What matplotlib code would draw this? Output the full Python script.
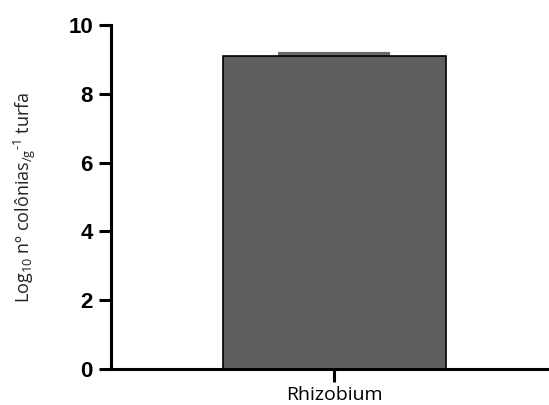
import matplotlib
matplotlib.use("Agg")
import matplotlib.pyplot as plt

categories = ["Rhizobium"]
values = [9.1]
errors = [0.06]
yticks = [0, 2, 4, 6, 8, 10]

plt.rcParams['mathtext.fontset'] = 'custom'
plt.rcParams['mathtext.rm'] = 'Open Sans'
plt.rcParams['mathtext.it'] = 'Open Sans'

fig = plt.figure(figsize=(5.49, 4.05), dpi=100)
ax = fig.add_axes([111/549, 36/405, (549-111)/549, 344/405])

x = list(range(len(categories)))
ax.bar(x, values, width=1.0, color='#5f5f5f', edgecolor='black', linewidth=1.2, zorder=2)
ax.errorbar(x, values, yerr=errors, fmt='none', ecolor='#6a6a6a', elinewidth=1.5,
            capsize=40, capthick=3, zorder=1)

ax.set_xlim(-1.0, 0.96)
ax.set_ylim(0, 10)
ax.set_yticks(yticks)
ax.set_yticklabels([str(t) for t in yticks], fontfamily='Liberation Sans',
                   fontweight='bold', fontsize=16)
ax.set_xticks(x)
ax.set_xticklabels(categories, fontfamily='Open Sans', fontsize=14)

for s in ['top', 'right']:
    ax.spines[s].set_visible(False)
for s in ['left', 'bottom']:
    ax.spines[s].set_linewidth(2.2)
ax.tick_params(axis='both', width=2.2, length=9, pad=3)
ax.tick_params(axis='y', pad=4)

ax.set_ylabel(r'Log$_{10}$ nº colônias$_{/g}$$^{\text{-}1}$ turfa', fontfamily='Open Sans',
              fontsize=13, color='#222222', labelpad=22)

fig.savefig('out.png', dpi=100)
